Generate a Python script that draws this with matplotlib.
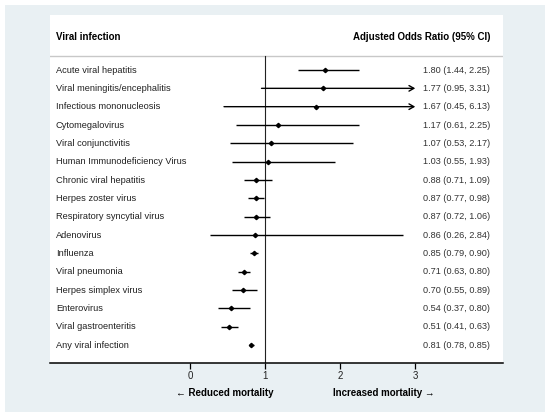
import matplotlib
matplotlib.use("Agg")
import matplotlib.pyplot as plt
from matplotlib.patches import Rectangle

plt.rcParams['font.family'] = ['Liberation Sans', 'DejaVu Sans']

# viral infections, adjusted odds ratio and 95% CI
labels = ["Acute viral hepatitis", "Viral meningitis/encephalitis", "Infectious mononucleosis",
          "Cytomegalovirus", "Viral conjunctivitis", "Human Immunodeficiency Virus",
          "Chronic viral hepatitis", "Herpes zoster virus", "Respiratory syncytial virus",
          "Adenovirus", "Influenza", "Viral pneumonia", "Herpes simplex virus",
          "Enterovirus", "Viral gastroenteritis", "Any viral infection"]
aor = [1.80, 1.77, 1.67, 1.17, 1.07, 1.03, 0.88, 0.87, 0.87, 0.86, 0.85, 0.71, 0.70, 0.54, 0.51, 0.81]
lo = [1.44, 0.95, 0.45, 0.61, 0.53, 0.55, 0.71, 0.77, 0.72, 0.26, 0.79, 0.63, 0.55, 0.37, 0.41, 0.78]
hi = [2.25, 3.31, 6.13, 2.25, 2.17, 1.93, 1.09, 0.98, 1.06, 2.84, 0.90, 0.80, 0.89, 0.80, 0.63, 0.85]
ticks = [0, 1, 2, 3]
x_cap = 3.0  # CIs beyond this are drawn with an arrow

W, H = 550, 417
fig = plt.figure(figsize=(W / 100, H / 100), dpi=100)
fig.patch.set_facecolor('white')
# light outer panel
fig.add_artist(Rectangle((5 / W, 1 - 412 / H), 540 / W, 407 / H, transform=fig.transFigure,
                         facecolor='#e9f0f3', edgecolor='none', zorder=0))

ax = fig.add_axes([50 / W, 1 - 363 / H, 453 / W, 348 / H])
ax.set_facecolor('white')
ax.set_xlim(-1.87, 4.17)
ax.set_ylim(15.98, -3.0)

for s in ['top', 'left', 'right']:
    ax.spines[s].set_visible(False)
ax.spines['bottom'].set_linewidth(1.1)
ax.set_yticks([])
ax.set_xticks(ticks)
ax.tick_params(axis='x', direction='out', length=4, width=0.9, labelsize=7, pad=2,
               labelcolor='#222222')

# header
ax.text(-1.79, -1.8, "Viral infection", fontsize=7, fontweight='bold', va='center', ha='left')
ax.text(4.0, -1.8, "Adjusted Odds Ratio (95% CI)", fontsize=7, fontweight='bold',
        va='center', ha='right')
ax.axhline(-0.76, color='#c8c8c8', lw=1)
ax.plot([1, 1], [-0.76, 15.98], color='#222222', lw=0.8)

for i, (lab, m, l, h) in enumerate(zip(labels, aor, lo, hi)):
    ax.text(-1.79, i, lab, fontsize=6.7, va='center', ha='left', color='#222222')
    ax.text(4.0, i, f"{m:.2f} ({l:.2f}, {h:.2f})", fontsize=6.6, va='center', ha='right',
            color='#333333')
    if h > x_cap:
        ax.annotate("", xy=(x_cap, i), xytext=(l, i),
                    arrowprops=dict(arrowstyle='->,head_length=0.35,head_width=0.2',
                                    color='black', lw=1.0, shrinkA=0, shrinkB=0))
    else:
        ax.plot([l, h], [i, i], color='black', lw=1.0, solid_capstyle='butt')
    ax.plot(m, i, marker='D', ms=2.2, color='black')

fig.text(273 / W, 1 - 393 / H, "\u2190 Reduced mortality", fontsize=7, fontweight='bold',
         ha='right', va='center', family=['Liberation Sans', 'DejaVu Sans'])
fig.text(333 / W, 1 - 393 / H, "Increased mortality \u2192", fontsize=7, fontweight='bold',
         ha='left', va='center', family=['Liberation Sans', 'DejaVu Sans'])

fig.savefig("out.png", dpi=100, facecolor=fig.get_facecolor())
